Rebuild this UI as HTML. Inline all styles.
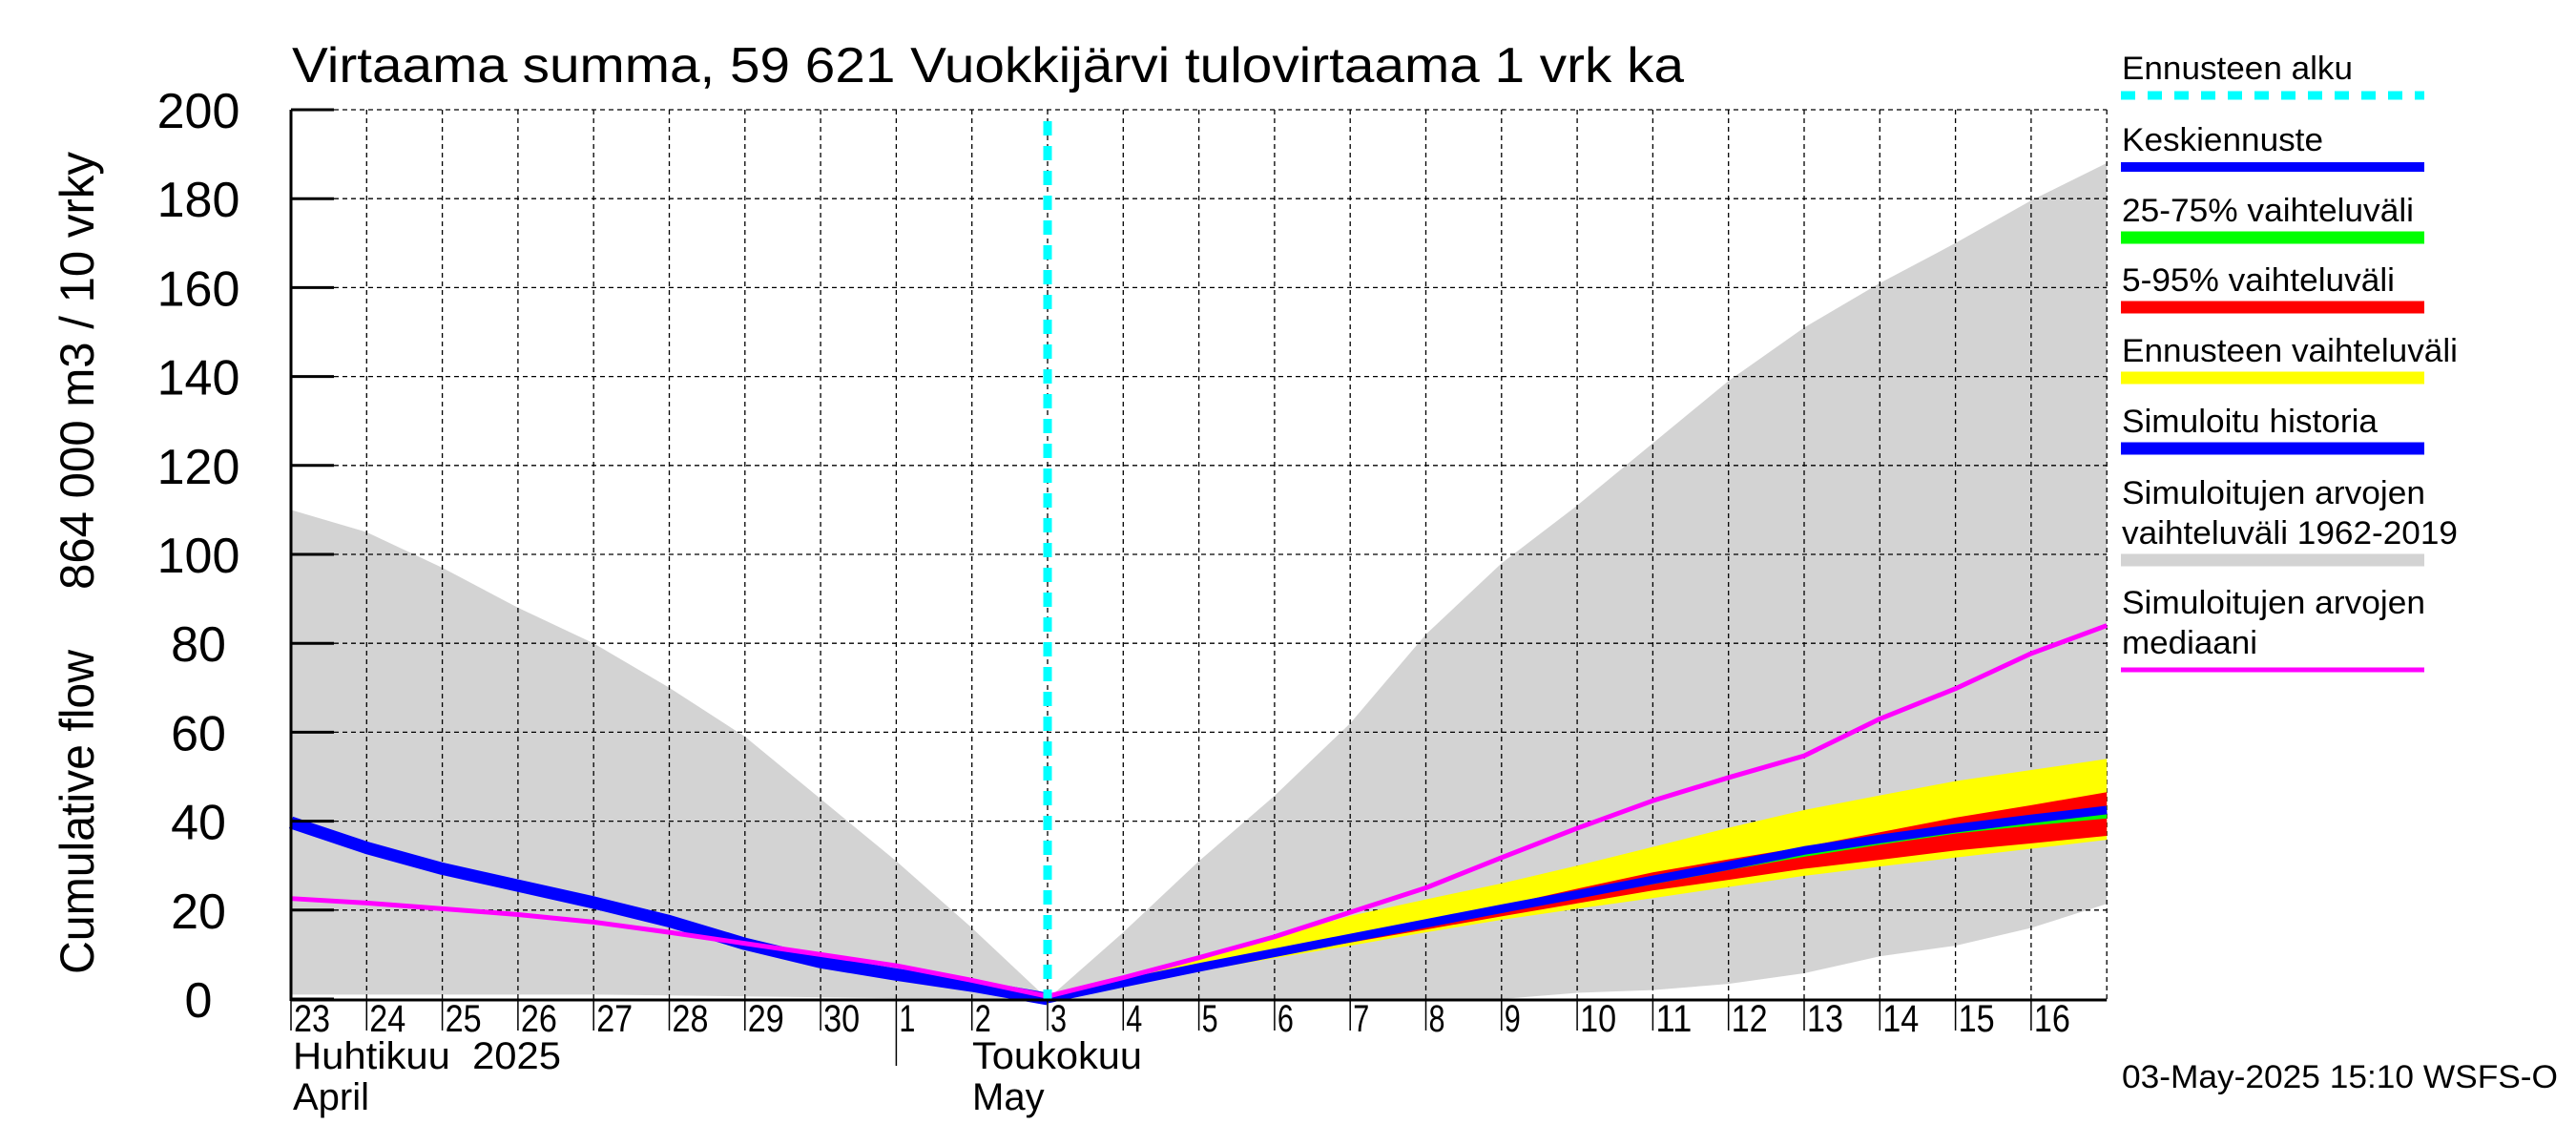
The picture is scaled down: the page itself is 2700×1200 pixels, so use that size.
<!DOCTYPE html>
<html><head><meta charset="utf-8"><style>
html,body{margin:0;padding:0;background:#fff;}
svg{display:block;font-family:"Liberation Sans",sans-serif;}
</style></head><body>
<svg id="chart" width="2700" height="1200" viewBox="0 0 2700 1200" xmlns="http://www.w3.org/2000/svg">
<rect width="2700" height="1200" fill="#fff"/>
<g id="plot"></g>
<text x="306" y="86" font-size="52" textLength="1459" lengthAdjust="spacingAndGlyphs">Virtaama summa, 59 621 Vuokkijärvi tulovirtaama 1 vrk ka</text>
<g>
<text transform="translate(98,1021) rotate(-90)" font-size="50" textLength="340" lengthAdjust="spacingAndGlyphs">Cumulative flow</text>
<text transform="translate(98,618) rotate(-90)" font-size="50" textLength="459" lengthAdjust="spacingAndGlyphs">864 000 m3 / 10 vrky</text>
</g>
<text x="307" y="1120" font-size="40" xml:space="preserve" textLength="281" lengthAdjust="spacingAndGlyphs">Huhtikuu  2025</text>
<text x="307" y="1163" font-size="40">April</text>
<text x="1019" y="1120" font-size="40" textLength="178" lengthAdjust="spacingAndGlyphs">Toukokuu</text>
<text x="1019" y="1163" font-size="40">May</text>
<text x="2224" y="1140" font-size="34" textLength="457" lengthAdjust="spacingAndGlyphs">03-May-2025 15:10 WSFS-O</text>
<g id="legend"></g>
</svg>
<script>
const dayLabels=["23","24","25","26","27","28","29","30","1","2","3","4","5","6","7","8","9","10","11","12","13","14","15","16"];
const yTicks=[0,20,40,60,80,100,120,140,160,180,200];
// history (index 0..10)
const histIdx=[0,1,2,3,4,5,6,7,8,9,10];
const histBlue=[39.7,34,29.3,25.5,21.7,17.5,12.4,8.3,5.5,3,0];
// median of simulated (index 0..24)
const medianVals=[22.6,21.6,20.3,19,17.3,15,12.5,10,7.5,4.2,0.6,4.8,9.3,14,19.5,25,31.8,38.4,44.6,49.8,54.7,63,69.8,77.7,84];
const grayUpper=[110,105,97,88,80,70,59,45,31,16,0,15,31,45.7,62,82,98,111,125,139,151,161,170,179.6,188];
const grayLower=[1,1,1,1,1,0.8,0.6,0.4,0.2,0.1,0,0,0,0,0,0,0,1.4,2,3.4,5.8,9.6,12,16,21.4];
// forecast (index 10..24)
const fcIdx=[10,11,12,13,14,15,16,17,18,19,20,21,22,23,24];
const yelU=[0,4.4,8.8,13.8,18.7,22.4,26,30,34.2,38.5,42.5,45.8,49,51.5,54];
const yelL=[0,3,6.3,9.2,12,15,17.8,20.3,22.7,25.2,27.7,29.8,31.8,33.8,35.8];
const redU=[0,3.8,7.6,11,14.4,17.7,21,24.8,28.5,31.4,34.2,37.5,40.8,43.6,46.5];
const redL=[0,3.3,6.6,9.7,12.7,15.6,18.6,21.5,24.4,26.8,29.3,31.3,33.4,35,36.7];
const grnU=[0,3.7,7.3,10.6,14,17.2,20.5,23.8,27.2,30.5,33.8,36.6,39.2,41.4,43.3];
const grnL=[0,3.5,7,10.2,13.4,16.4,19.6,22.7,25.8,29,32,34.7,37.2,39,40.6];
const fcBlue=[0,3.6,7.1,10.4,13.7,17,20.3,23.5,26.8,30,33.4,36,38.4,40.5,42.5];
const forecastStart=10;

const X0=305,DX=79.3,Y0=1047,Y1=115,VMAX=200;
const xs=i=>X0+DX*i;
const ys=v=>Y0-(Y0-Y1)*v/VMAX;
const NS="http://www.w3.org/2000/svg";
const plot=document.getElementById('plot');
function mk(tag,attrs,parent){const e=document.createElementNS(NS,tag);for(const k in attrs)e.setAttribute(k,attrs[k]);(parent||plot).appendChild(e);return e;}
function band(idx,up,lo,fill,name){
  let d='M'+idx.map((i,k)=>xs(i)+','+ys(up[k])).join(' L');
  for(let k=idx.length-1;k>=0;k--)d+=' L'+xs(idx[k])+','+ys(lo[k]);
  const p=mk('path',{d:d+'Z',fill:fill});
  
  
}
function line(idx,vals,stroke,w,name){
  const p=mk('polyline',{points:idx.map((i,k)=>xs(i)+','+ys(vals[k])).join(' '),fill:'none',stroke:stroke,'stroke-width':w,'stroke-linejoin':'round'});
  
  
}
const allIdx=grayUpper.map((_,i)=>i);
band(allIdx,grayUpper,grayLower,'#d3d3d3','simulated-range-band');
for(let i=1;i<=24;i++){const g=mk('line',{x1:xs(i),x2:xs(i),y1:Y1,y2:Y0,stroke:'#000','stroke-width':1.3,'stroke-dasharray':'5,4'});
}
yTicks.forEach(v=>{if(v===0)return;const g=mk('line',{x1:X0,x2:xs(24),y1:ys(v),y2:ys(v),stroke:'#000','stroke-width':1.3,'stroke-dasharray':'5,4'});
});
band(fcIdx,yelU,yelL,'#ffff00','forecast-range-band');
band(fcIdx,redU,redL,'#ff0000','band-5-95');
band(fcIdx,grnU,grnL,'#00ff00','band-25-75');
line(histIdx,histBlue,'#0000ff',13,'simulated-history-line');
line(fcIdx,fcBlue,'#0000ff',9,'mean-forecast-line');
line(allIdx,medianVals,'#ff00ff',5,'simulated-median-line');
const fl=mk('line',{x1:xs(forecastStart),x2:xs(forecastStart),y1:Y1+12,y2:Y0,stroke:'#00ffff','stroke-width':9,'stroke-dasharray':'15,11'});

const ax=mk('line',{x1:X0,x2:X0,y1:Y1,y2:Y0+2,stroke:'#000','stroke-width':3});

const bx=mk('line',{x1:X0,x2:xs(24),y1:Y0+1,y2:Y0+1,stroke:'#000','stroke-width':3});

yTicks.forEach(v=>{
  const t=mk('line',{x1:X0,x2:X0+45,y1:ys(v),y2:ys(v),stroke:'#000','stroke-width':3});
  
  const l=mk('text',{x:208,y:ys(v)+19,'font-size':52,'text-anchor':'middle'});
  l.textContent=v;
  
});
dayLabels.forEach((d,i)=>{
  const t=mk('line',{x1:xs(i),x2:xs(i),y1:Y0,y2:(i===8?1117:1080),stroke:'#000','stroke-width':1.5});
  
  const l=mk('text',{x:xs(i)+3,y:1081,'font-size':40,textLength:(d.length>1?38:17),lengthAdjust:'spacingAndGlyphs'});
  l.textContent=d;
  
});
const leg=document.getElementById('legend');
const legendItems=[
 {t:['Ennusteen alku'],y:100,c:'#00ffff',w:9,dash:'15,13',n:'legend-forecast-start'},
 {t:['Keskiennuste'],y:175,c:'#0000ff',w:10,n:'legend-mean-forecast'},
 {t:['25-75% vaihteluväli'],y:249,c:'#00ff00',w:13,n:'legend-25-75'},
 {t:['5-95% vaihteluväli'],y:322,c:'#ff0000',w:13,n:'legend-5-95'},
 {t:['Ennusteen vaihteluväli'],y:396,c:'#ffff00',w:13,n:'legend-forecast-range'},
 {t:['Simuloitu historia'],y:470,c:'#0000ff',w:13,n:'legend-simulated-history'},
 {t:['Simuloitujen arvojen','vaihteluväli 1962-2019'],y:587,c:'#d3d3d3',w:13,n:'legend-simulated-range'},
 {t:['Simuloitujen arvojen','mediaani'],y:702,c:'#ff00ff',w:5,n:'legend-simulated-median'}
];
const widths={'Ennusteen alku':242,'Keskiennuste':211,'25-75% vaihteluväli':306,'5-95% vaihteluväli':286,'Ennusteen vaihteluväli':352,'Simuloitu historia':268,'Simuloitujen arvojen':318,'vaihteluväli 1962-2019':352,'mediaani':142};
legendItems.forEach(it=>{
  const g=mk('g',{},leg);
  
  
  const n=it.t.length;
  it.t.forEach((s,k)=>{
    const tx=mk('text',{x:2224,y:it.y-17-(n-1-k)*42,'font-size':34,textLength:widths[s],lengthAdjust:'spacingAndGlyphs'},g);
    tx.textContent=s;
  });
  const a={x1:2223,x2:2541,y1:it.y,y2:it.y,stroke:it.c,'stroke-width':it.w};
  if(it.dash)a['stroke-dasharray']=it.dash;
  mk('line',a,g);
});
</script>
</body></html>
